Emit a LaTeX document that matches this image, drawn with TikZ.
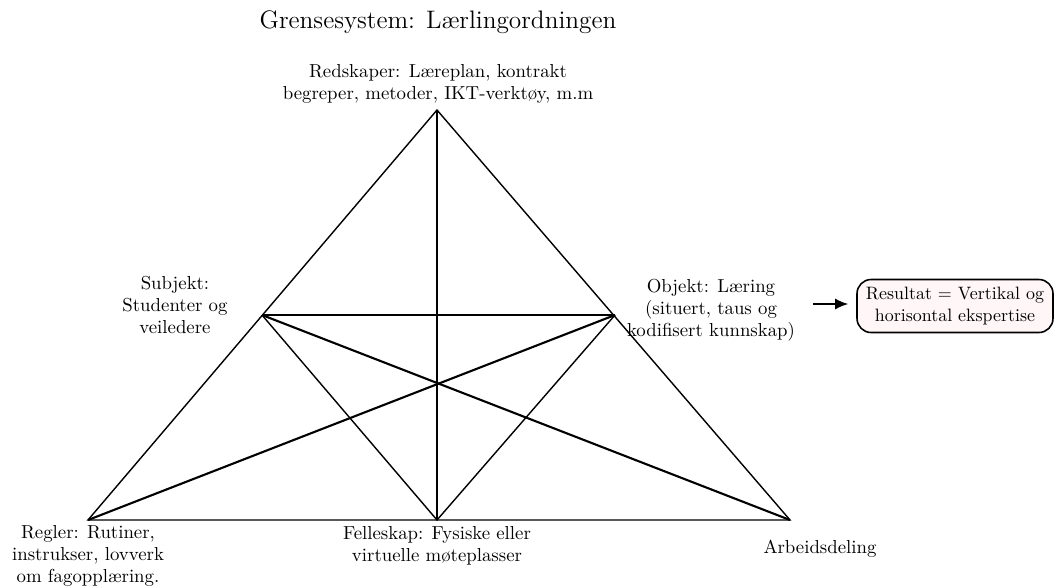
\documentclass[tikz,border=0pt]{standalone}
\usetikzlibrary{positioning,arrows.meta}
\tikzset{
  edge/.style={line width=0.8pt},
  heavy/.style={line width=1.2pt},
  lbl/.style={align=center, inner sep=1pt, font=\fontsize{10.7}{12.6}\selectfont}
}
\begin{document}
\begin{tikzpicture}[x=0.02cm,y=-0.02cm]
  \useasboundingbox (0,0) rectangle (1055,586);
  % corners of the triangle
  \coordinate (tool) at (437,110);
  \coordinate (rules) at (88,520);
  \coordinate (division) at (790,520);
  \coordinate (community) at (437,520);
  \coordinate (subject) at (262,315);
  \coordinate (object) at (615,315);

  % outer triangle
  \draw[edge] (tool) -- (rules) -- (division) -- cycle;
  \draw[edge] (subject) -- (object);
  \draw[edge] (subject) -- (community) -- (object);
  \draw[heavy] (tool) -- (community);
  \draw[heavy] (subject) -- (division);
  \draw[heavy] (object) -- (rules);

  % labels
  \node[lbl, font=\Large] (title) at (438,22) {Grensesystem: Lærlingordningen};
  \node[lbl] (toollbl) at (438,84) {Redskaper: Læreplan, kontrakt\\begreper, metoder, IKT-verktøy, m.m};
  \node[lbl] (subjlbl) at (175,305) {Subjekt:\\Studenter og\\veiledere};
  \node[lbl] (objlbl) at (711,310) {Objekt: Læring\\(situert, taus og\\kodifisert kunnskap)};
  \node[lbl] (ruleslbl) at (88,556) {Regler: Rutiner,\\instrukser, lovverk\\om fagopplæring.};
  \node[lbl] (commlbl) at (437,546) {Felleskap: Fysiske eller\\virtuelle møteplasser};
  \node[lbl] (divlbl) at (820,549) {Arbeidsdeling};

  % outcome
  \node[lbl, font=\fontsize{10.2}{12.6}\selectfont, draw, line width=0.9pt,
        rounded corners=8pt, fill=red!3,
        minimum width=3.92cm, minimum height=1.06cm, inner sep=2pt]
        (result) at (955,306) {Resultat = Vertikal og\\horisontal ekspertise};
  \coordinate (arrstart) at (813,304);
  \draw[line width=1pt,-{Latex[length=2.6mm,width=2.2mm]}] (arrstart) -- ([xshift=-0.16cm]result.west |- arrstart);
\end{tikzpicture}
\end{document}
